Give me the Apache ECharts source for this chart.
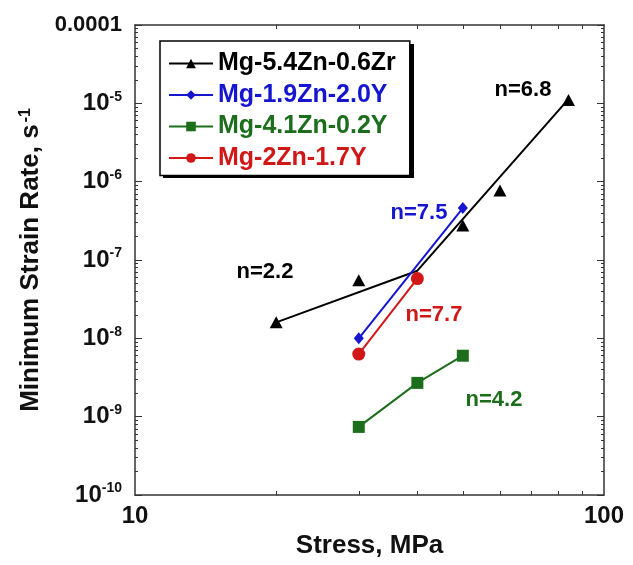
<!DOCTYPE html>
<html>
<head>
<meta charset="utf-8">
<script src="https://cdn.jsdelivr.net/npm/echarts@6/dist/echarts.min.js"></script>
<style>
html,body{margin:0;padding:0;background:#fff;}
#chart{width:633px;height:565px;}
</style>
</head>
<body>
<div id="chart"></div>
<script>
// measured points, Mg-5.4Zn-0.6Zr
var zrStress = [20, 30, 50, 60, 84];
var zrRate = [1.6e-8, 5.5e-8, 2.75e-7, 7.7e-7, 1.1e-5];
// fitted lines for Mg-5.4Zn-0.6Zr (n=2.2 and n=6.8)
var zrFitStress = [20, 40, 84];
var zrFitRate = [1.6e-8, 7.3e-8, 1.13e-5];
// Mg-1.9Zn-2.0Y
var y19Stress = [30, 50];
var y19Rate = [1.0e-8, 4.6e-7];
// Mg-4.1Zn-0.2Y
var y02Stress = [30, 40, 50];
var y02Rate = [7.4e-10, 2.7e-9, 6.0e-9];
// Mg-2Zn-1.7Y
var y17Stress = [30, 40];
var y17Rate = [6.3e-9, 5.8e-8];

var names = ['Mg-5.4Zn-0.6Zr', 'Mg-1.9Zn-2.0Y', 'Mg-4.1Zn-0.2Y', 'Mg-2Zn-1.7Y'];
var xLabelVals = [10, 100];
var xMinorVals = [20, 30, 40, 50, 60, 70, 80, 90];
var yMin = 1e-10, yMax = 1e-4;

var FONT = 'Arial, "Liberation Sans", sans-serif';
var C_BLACK = '#000000', C_BLUE = '#1616d0', C_GREEN = '#1c6e1c', C_RED = '#d01818';

function pairs(xs, ys){
	var out = [];
	for(var i=0;i<xs.length;i++){ out.push([xs[i], ys[i]]); }
	return out;
}

// tick positions on the log y axis: decades and 2..9 in between
var yMinorVals = [];
for(var e=-10;e<-4;e++){
	for(var m=2;m<10;m++){ yMinorVals.push(+(m+'e'+e)); }
}
var yMajorVals = [];
for(var e2=-10;e2<=-4;e2++){ yMajorVals.push(+('1e'+e2)); }

var axisLineStyle = {color:'#333', width:1.5};

function yLabel(v){
	var ex = Math.round(Math.log10(v));
	if(ex === -4){ return '{z|0.0001}'; }
	return '{b|10}{s|' + ex + '}';
}

var myChart = echarts.init(document.getElementById('chart'));
var option = {
	backgroundColor:'#fff',
	animation:false,
	grid:{left:135, right:29, top:25, bottom:70},
	legend:{
		orient:'vertical',
		left:160, top:41, z:5,
		padding:[10,14,5,8],
		itemGap:6.5,
		itemWidth:44, itemHeight:12,
		backgroundColor:'#fff',
		borderColor:'#000', borderWidth:1.5,
		textStyle:{fontFamily:FONT, fontWeight:'bold', fontSize:25},
		data:[
			{name:names[0], textStyle:{color:C_BLACK}, lineStyle:{width:2, color:C_BLACK, opacity:1}},
			{name:names[1], textStyle:{color:C_BLUE}},
			{name:names[2], textStyle:{color:C_GREEN}},
			{name:names[3], textStyle:{color:C_RED}}
		]
	},
	xAxis:[
		{
			type:'log', logBase:10, min:10, max:100, position:'bottom',
			name:'Stress, MPa', nameLocation:'middle', nameGap:33,
			nameTextStyle:{fontFamily:FONT, fontWeight:'bold', fontSize:26, color:'#111'},
			axisLine:{show:true, lineStyle:axisLineStyle},
			axisTick:{show:true, inside:true, length:4, lineStyle:{color:'#333'}, customValues:xMinorVals},
			axisLabel:{show:true, margin:9, customValues:xLabelVals, fontFamily:FONT, fontWeight:'bold', fontSize:24, color:'#111'},
			splitLine:{show:false}
		},
		{
			type:'log', logBase:10, min:10, max:100, position:'top',
			axisLine:{show:true, lineStyle:axisLineStyle},
			axisTick:{show:true, inside:true, length:4, lineStyle:{color:'#333'}, customValues:xMinorVals},
			axisLabel:{show:false},
			splitLine:{show:false}
		}
	],
	yAxis:[
		{
			type:'log', logBase:10, min:yMin, max:yMax, position:'left',
			name:'Minimum Strain Rate, s{s|-1}', nameLocation:'middle', nameGap:86, nameRotate:90,
			nameTextStyle:{fontFamily:FONT, fontWeight:'bold', fontSize:26, color:'#111',
				rich:{s:{fontFamily:FONT, fontWeight:'bold', fontSize:16, color:'#111', verticalAlign:'top', padding:[0,0,0,2]}}},
			axisLine:{show:true, lineStyle:axisLineStyle},
			axisTick:{show:true, inside:true, length:7, lineStyle:{color:'#333'}, customValues:yMajorVals},
			axisLabel:{show:true, margin:13, customValues:yMajorVals, formatter:yLabel,
				rich:{
					z:{fontFamily:FONT, fontWeight:'bold', fontSize:22, color:'#111'},
					b:{fontFamily:FONT, fontWeight:'bold', fontSize:24, color:'#111', lineHeight:27},
					s:{fontFamily:FONT, fontWeight:'bold', fontSize:14, color:'#111', verticalAlign:'top', lineHeight:27}
				}},
			splitLine:{show:false}
		},
		{
			type:'log', logBase:10, min:yMin, max:yMax, position:'left',
			axisLine:{show:false},
			axisTick:{show:true, inside:true, length:3, lineStyle:{color:'#333'}, customValues:yMinorVals},
			axisLabel:{show:false},
			splitLine:{show:false}
		},
		{
			type:'log', logBase:10, min:yMin, max:yMax, position:'right',
			axisLine:{show:true, lineStyle:axisLineStyle},
			axisTick:{show:true, inside:true, length:7, lineStyle:{color:'#333'}, customValues:yMajorVals},
			axisLabel:{show:false},
			splitLine:{show:false}
		},
		{
			type:'log', logBase:10, min:yMin, max:yMax, position:'right',
			axisLine:{show:false},
			axisTick:{show:true, inside:true, length:3, lineStyle:{color:'#333'}, customValues:yMinorVals},
			axisLabel:{show:false},
			splitLine:{show:false}
		}
	],
	series:[
		{
			name:'fit', type:'line', xAxisIndex:0, yAxisIndex:0,
			symbol:'none', lineStyle:{color:C_BLACK, width:2},
			data:pairs(zrFitStress, zrFitRate)
		},
		{
			name:names[0], type:'line', xAxisIndex:0, yAxisIndex:0,
			symbol:'triangle', symbolSize:[13,12],
			itemStyle:{color:C_BLACK},
			lineStyle:{width:0, opacity:0},
			data:pairs(zrStress, zrRate)
		},
		{
			name:names[1], type:'line', xAxisIndex:0, yAxisIndex:0,
			symbol:'diamond', symbolSize:[10,12],
			itemStyle:{color:C_BLUE}, lineStyle:{color:C_BLUE, width:2},
			data:pairs(y19Stress, y19Rate)
		},
		{
			name:names[2], type:'line', xAxisIndex:0, yAxisIndex:0,
			symbol:'rect', symbolSize:12,
			itemStyle:{color:C_GREEN}, lineStyle:{color:C_GREEN, width:2},
			data:pairs(y02Stress, y02Rate)
		},
		{
			name:names[3], type:'line', xAxisIndex:0, yAxisIndex:0,
			symbol:'circle', symbolSize:13,
			itemStyle:{color:C_RED}, lineStyle:{color:C_RED, width:2},
			data:pairs(y17Stress, y17Rate)
		}
	],
	graphic:[
		// drop shadow under the legend box
		{type:'rect', z:4, shape:{x:163, y:44, width:251, height:134}, style:{fill:'#000'}},
		{type:'text', x:523, y:90, z:6, style:{text:'n=6.8', fill:C_BLACK, font:'bold 22px ' + FONT, align:'center', verticalAlign:'middle'}},
		{type:'text', x:419, y:213, z:6, style:{text:'n=7.5', fill:C_BLUE, font:'bold 22px ' + FONT, align:'center', verticalAlign:'middle'}},
		{type:'text', x:265, y:272, z:6, style:{text:'n=2.2', fill:C_BLACK, font:'bold 22px ' + FONT, align:'center', verticalAlign:'middle'}},
		{type:'text', x:434, y:315, z:6, style:{text:'n=7.7', fill:C_RED, font:'bold 22px ' + FONT, align:'center', verticalAlign:'middle'}},
		{type:'text', x:494, y:400, z:6, style:{text:'n=4.2', fill:C_GREEN, font:'bold 22px ' + FONT, align:'center', verticalAlign:'middle'}}
	]
};
myChart.setOption(option);
</script>
</body>
</html>
